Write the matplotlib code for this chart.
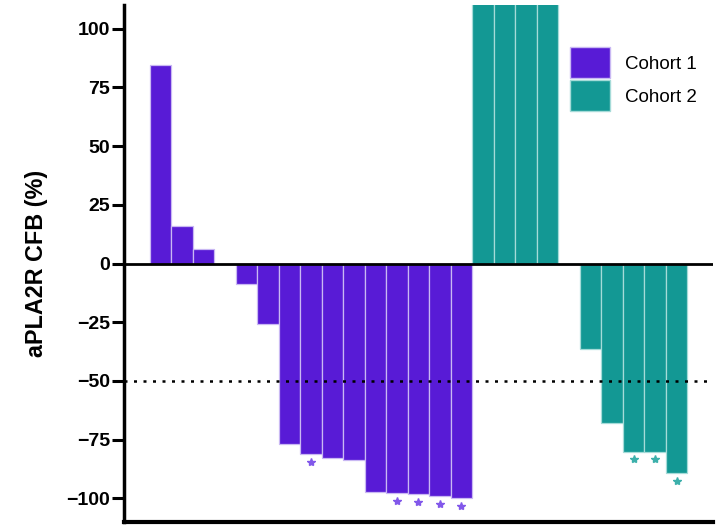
import numpy as np
import matplotlib.pyplot as plt
from matplotlib.patches import Patch

plt.rcParams['font.family'] = ['Liberation Sans', 'DejaVu Sans']

# values (0 = no bar, the gap between groups)
cohort1 = [84.7, 16.1, 6.1, 0, -8.5, -25.9, -77.0, -81.1, -83.0, -83.8,
           -97.3, -97.7, -98.2, -99.1, -100.0]
cohort1_star = [0, 0, 0, 0, 0, 0, 0, 1, 0, 0, 0, 1, 1, 1, 1]
cohort2 = [160, 150, 140, 130, 0, -36.6, -68.1, -80.1, -80.1, -89.4]
cohort2_star = [0, 0, 0, 0, 0, 0, 0, 1, 1, 1]

purple = '#581bd6'
teal = '#139894'

fig = plt.figure(figsize=(7.24, 5.25), dpi=100)
ax = fig.add_axes([0.171, 0.006, 0.814, 0.984])

x1 = np.arange(len(cohort1))
x2 = np.arange(len(cohort2)) + len(cohort1)
ax.bar(x1, cohort1, width=1.0, color=purple, edgecolor='#c9b8f3', linewidth=0.9)
ax.bar(x2, cohort2, width=1.0, color=teal, edgecolor='#a5dbd8', linewidth=0.9)

off = 3.3
for xi, v, s in zip(x1, cohort1, cohort1_star):
    if s:
        ax.plot(xi, v - off, marker='*', color='#8258ea', markersize=6)
for xi, v, s in zip(x2, cohort2, cohort2_star):
    if s:
        ax.plot(xi, v - off, marker='*', color='#3cb0ab', markersize=6)

ax.axhline(0, color='black', lw=2)
ax.axhline(-50, color='black', lw=1.8, linestyle=(0, (1.2, 2.6)))

ax.set_xlim(-1.7, len(cohort1) + len(cohort2) + 0.7)
ax.set_ylim(-110, 110)
ax.set_yticks([-100, -75, -50, -25, 0, 25, 50, 75, 100])
ax.tick_params(axis='y', length=9, width=2.2, labelsize=14, pad=1)
for t in ax.get_yticklabels():
    t.set_fontweight('bold')
ax.set_xticks([])
ax.spines['top'].set_visible(False)
ax.spines['right'].set_visible(False)
ax.spines['left'].set_linewidth(2.5)
ax.spines['bottom'].set_linewidth(3)
ax.set_ylabel('aPLA2R CFB (%)', fontsize=16.8, fontweight='bold', labelpad=13)

handles = [Patch(facecolor=purple, edgecolor='#c9b8f3', label='Cohort 1'),
           Patch(facecolor=teal, edgecolor='#a5dbd8', label='Cohort 2')]
ax.legend(handles=handles, loc='upper left', bbox_to_anchor=(0.745, 0.933),
          frameon=False, fontsize=13.5, handlelength=2.1, handleheight=2.17,
          handletextpad=0.8, labelspacing=0.1, borderaxespad=0)

fig.savefig('out.png', dpi=100)
